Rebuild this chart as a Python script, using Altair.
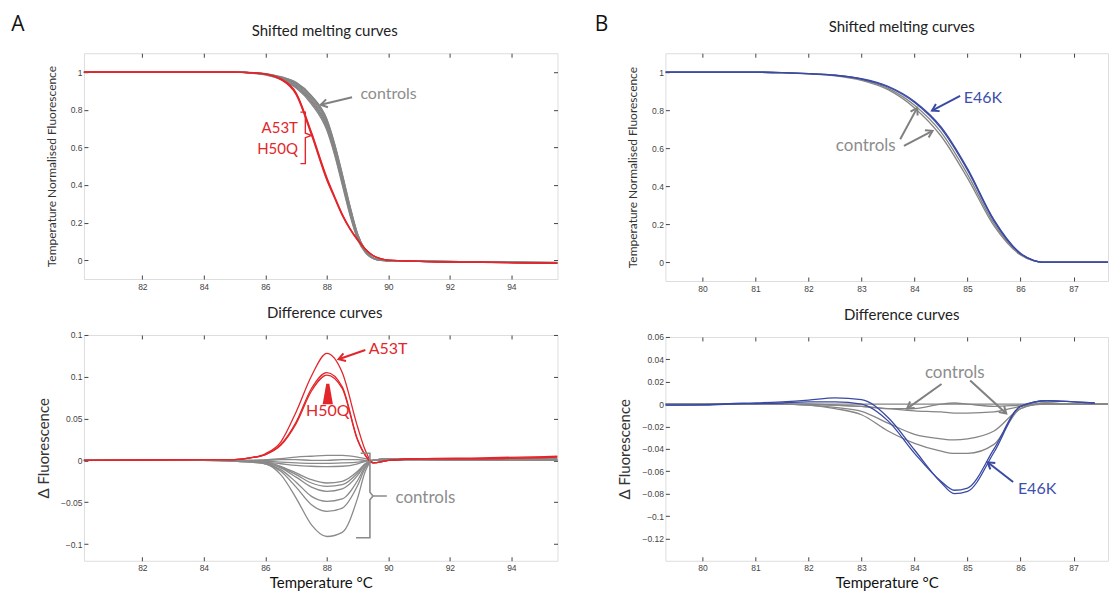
import math
import altair as alt
import pandas as pd

RED = "#e2262b"
GREY = "#858585"
GREY_TXT = "#8d8d8d"
BLUE = "#3a4aa3"
BLUE_TXT = "#3d4fae"
TICK_FONT = "Liberation Sans"
TXT_FONT = "Lato"

# ---------------- Panel A : shifted melting curves ----------------
A_MELT_T = [80, 84, 85, 85.5, 86, 86.5, 87, 87.5, 88, 88.25, 88.5, 88.75, 89, 89.25, 89.5, 89.75, 90, 91, 93, 95.5]
A_MELT_CONTROLS = [
    [1.0, 1.0, 1.002, 0.998, 0.992, 0.975, 0.945, 0.875, 0.750, 0.620, 0.460, 0.290, 0.140, 0.055, 0.013, 0.0, -0.003, -0.005, -0.009, -0.013],
    [1.0, 1.0, 1.002, 0.997, 0.990, 0.972, 0.940, 0.868, 0.740, 0.610, 0.450, 0.280, 0.135, 0.052, 0.012, 0.0, -0.003, -0.005, -0.009, -0.012],
    [1.0, 1.0, 1.002, 0.997, 0.990, 0.970, 0.935, 0.860, 0.730, 0.600, 0.440, 0.270, 0.130, 0.050, 0.012, 0.0, -0.003, -0.005, -0.009, -0.013],
    [1.0, 1.0, 1.001, 0.996, 0.988, 0.967, 0.930, 0.852, 0.720, 0.590, 0.430, 0.262, 0.125, 0.048, 0.011, 0.0, -0.003, -0.005, -0.010, -0.014],
    [1.0, 1.0, 1.001, 0.996, 0.987, 0.964, 0.925, 0.845, 0.710, 0.580, 0.420, 0.255, 0.120, 0.045, 0.010, -0.001, -0.003, -0.006, -0.010, -0.014],
    [1.0, 1.0, 1.001, 0.995, 0.986, 0.962, 0.920, 0.838, 0.700, 0.570, 0.410, 0.248, 0.116, 0.043, 0.010, -0.001, -0.004, -0.006, -0.010, -0.015],
    [1.0, 1.0, 1.002, 0.997, 0.991, 0.973, 0.943, 0.872, 0.745, 0.615, 0.455, 0.285, 0.138, 0.054, 0.013, 0.0, -0.003, -0.005, -0.009, -0.013],
    [1.0, 1.0, 1.001, 0.995, 0.985, 0.960, 0.915, 0.830, 0.690, 0.560, 0.400, 0.240, 0.110, 0.040, 0.009, -0.001, -0.004, -0.006, -0.011, -0.015],
]
A_MELT_MUTANTS = [
    [1.0, 1.0, 1.0, 0.997, 0.990, 0.965, 0.890, 0.680, 0.440, 0.340, 0.245, 0.170, 0.110, 0.060, 0.025, 0.008, 0.0, -0.006, -0.011, -0.016],
    [1.0, 1.0, 1.0, 0.996, 0.988, 0.960, 0.880, 0.665, 0.425, 0.330, 0.238, 0.165, 0.106, 0.058, 0.024, 0.007, 0.0, -0.006, -0.011, -0.017],
    [1.0, 1.0, 1.0, 0.997, 0.989, 0.963, 0.885, 0.672, 0.432, 0.335, 0.242, 0.168, 0.108, 0.059, 0.025, 0.008, 0.0, -0.006, -0.011, -0.016],
]

# ---------------- Panel A : difference curves ----------------
A_DIFF_T = [80, 84, 85, 85.5, 86, 86.5, 87, 87.5, 88, 88.5, 89, 89.25, 89.5, 90, 91, 93, 95.5]
A_DIFF_CONTROLS = [
    [0, 0, -0.001, -0.002, -0.004, -0.017, -0.045, -0.077, -0.091, -0.086, -0.045, -0.013, 0.0, 0.002, 0.002, 0.001, 0.002],
    [0, 0, -0.001, -0.002, -0.004, -0.013, -0.032, -0.053, -0.061, -0.057, -0.030, -0.009, 0.0, 0.002, 0.002, 0.001, 0.002],
    [0, 0, -0.001, -0.002, -0.004, -0.011, -0.026, -0.043, -0.049, -0.046, -0.024, -0.007, 0.0, 0.002, 0.002, 0.001, 0.001],
    [0, 0, 0.0, -0.001, -0.003, -0.009, -0.020, -0.032, -0.037, -0.034, -0.018, -0.005, 0.0, 0.002, 0.001, 0.001, 0.001],
    [0, 0, 0.0, -0.001, -0.003, -0.008, -0.017, -0.027, -0.031, -0.029, -0.015, -0.004, 0.0, 0.001, 0.001, 0.001, 0.001],
    [0, 0, 0.0, -0.001, -0.002, -0.007, -0.015, -0.023, -0.027, -0.025, -0.013, -0.004, 0.0, 0.001, 0.001, 0.001, 0.0],
    [0, 0, 0.0, -0.001, -0.002, -0.004, -0.006, -0.007, -0.0075, -0.007, -0.004, -0.001, 0.0, 0.001, 0.001, 0.0, 0.0],
    [0, 0, 0.0, 0.0, -0.001, -0.002, -0.003, -0.0035, -0.0035, -0.003, -0.002, -0.001, 0.0, 0.001, 0.001, 0.0, 0.0],
    [0, 0, 0.0, 0.0, 0.0, 0.001, 0.001, 0.0, 0.0, 0.001, 0.001, 0.0, 0.0, 0.0, 0.001, 0.0, 0.0],
    [0, 0, 0.0, 0.0, 0.001, 0.002, 0.004, 0.005, 0.006, 0.006, 0.004, 0.002, 0.0, 0.001, 0.001, 0.0, 0.0],
]
A_DIFF_MUTANTS = [
    [0, 0.001, 0.001, 0.003, 0.008, 0.022, 0.058, 0.101, 0.128, 0.105, 0.040, 0.012, -0.003, 0.0, 0.002, 0.002, 0.004],
    [0, 0.001, 0.001, 0.003, 0.007, 0.019, 0.046, 0.086, 0.105, 0.088, 0.025, 0.006, -0.003, 0.0, 0.002, 0.003, 0.005],
    [0, 0.001, 0.001, 0.003, 0.007, 0.018, 0.044, 0.083, 0.102, 0.086, 0.024, 0.006, -0.003, 0.0, 0.002, 0.002, 0.004],
]

# ---------------- Panel B : shifted melting curves ----------------
B_MELT_T = [79.3, 80, 81, 81.5, 82, 82.5, 83, 83.5, 84, 84.5, 85, 85.5, 86, 86.25, 86.4, 87, 87.8]
B_MELT_CONTROLS = [
    [1.0, 1.0, 1.0, 0.998, 0.992, 0.983, 0.961, 0.915, 0.826, 0.684, 0.462, 0.202, 0.040, 0.007, 0.0, -0.001, -0.001],
    [1.0, 1.0, 1.0, 0.997, 0.991, 0.981, 0.957, 0.908, 0.812, 0.664, 0.442, 0.190, 0.037, 0.006, 0.0, -0.001, -0.001],
]
B_MELT_E46K = [
    [1.0, 1.0, 1.0, 0.998, 0.993, 0.985, 0.966, 0.926, 0.846, 0.712, 0.492, 0.222, 0.046, 0.009, 0.0, -0.001, -0.001],
    [1.0, 1.0, 1.0, 0.998, 0.992, 0.984, 0.964, 0.922, 0.840, 0.704, 0.484, 0.216, 0.044, 0.008, 0.0, -0.001, -0.001],
]

# ---------------- Panel B : difference curves ----------------
B_DIFF_T = [79.3, 80, 80.5, 81, 81.5, 82, 82.5, 83, 83.5, 84, 84.5, 84.75, 85, 85.5, 86, 86.5, 87, 87.4, 87.8]
B_DIFF_CONTROLS = [
    [0, 0, 0, 0, 0, 0, 0, 0, 0, 0, 0, 0, 0, 0, 0, 0, 0, 0, 0],
    [0, 0, 0, 0, 0, 0, -0.001, -0.002, -0.004, -0.004, 0.0, 0.001, 0.0, -0.002, -0.001, 0.0, 0.0, 0.0, 0.0],
    [0, 0, 0, 0, 0, 0, -0.001, -0.002, -0.004, -0.006, -0.007, -0.008, -0.008, -0.007, -0.002, 0.0, 0.0, 0.0, 0.0],
    [0, 0, 0, 0, 0, -0.001, -0.003, -0.0065, -0.017, -0.027, -0.031, -0.032, -0.031, -0.024, -0.004, 0.001, 0.0, 0.0, 0.0],
    [0, 0, 0, 0, 0, -0.001, -0.004, -0.0095, -0.024, -0.035, -0.042, -0.044, -0.044, -0.036, -0.004, 0.001, 0.0, 0.0, 0.0],
]
B_DIFF_E46K = [
    [-0.001, -0.0005, 0.0005, 0.001, 0.002, 0.0035, 0.0055, 0.004, -0.012, -0.041, -0.070, -0.080, -0.078, -0.043, -0.002, 0.003, 0.002, 0.001, None],
    [-0.001, -0.001, 0.0, 0.0005, 0.001, 0.002, 0.002, 0.0, -0.015, -0.044, -0.069, -0.077, -0.075, -0.040, -0.002, 0.003, 0.002, 0.001, None],
]

# ---------------- axes ----------------
A_XTICKS = [82, 84, 86, 88, 90, 92, 94]
B_XTICKS = [80, 81, 82, 83, 84, 85, 86, 87]
MELT_YTICKS = [0, 0.2, 0.4, 0.6, 0.8, 1]
A_DIFF_YTICKS = [-0.1, -0.05, 0, 0.05, 0.1, 0.15]
B_DIFF_YTICKS = [-0.12, -0.1, -0.08, -0.06, -0.04, -0.02, 0, 0.02, 0.04, 0.06]

A_XDOM = [80.1, 95.5]
B_XDOM = [79.3, 87.65]
MELT_YDOM = [-0.1, 1.1]
A_DIFF_YDOM = [-0.12, 0.15]
B_DIFF_YDOM = [-0.14, 0.06]

AW, BW = 474, 443
H_AT, H_AB, H_BT, H_BB = 226, 226, 228, 224


def curves(grid, groups):
    rows = []
    for name, color, series_list in groups:
        for i, s in enumerate(series_list):
            for t, v in zip(grid, s):
                if v is None:
                    continue
                rows.append({"id": f"{name}{i}", "T": t, "v": v, "col": color})
    return pd.DataFrame(rows)


def arrows_layers(arrows, xs, ys, kx, ky):
    """arrows: list of (x0, y0, x1, y1, color); head at (x1, y1)."""
    shafts, heads = [], []
    for k, (x0, y0, x1, y1, c) in enumerate(arrows):
        shafts.append({"id": k, "o": 0, "T": x0, "v": y0, "col": c})
        shafts.append({"id": k, "o": 1, "T": x1, "v": y1, "col": c})
        dx = (x1 - x0) * kx
        dy = (y1 - y0) * ky
        ang = math.degrees(math.atan2(dx, dy)) % 360
        heads.append({"T": x1, "v": y1, "col": c, "ang": ang})
    s = alt.Chart(pd.DataFrame(shafts)).mark_line(strokeWidth=2).encode(
        x=alt.X("T:Q", scale=xs, axis=None), y=alt.Y("v:Q", scale=ys, axis=None),
        color=alt.Color("col:N", scale=None), detail="id:N", order="o:Q")
    h = alt.Chart(pd.DataFrame(heads)).mark_point(
        shape="M-0.62,1 L0,0 L0.62,1", filled=False, strokeWidth=2, size=170, opacity=1).encode(
        x=alt.X("T:Q", scale=xs, axis=None), y=alt.Y("v:Q", scale=ys, axis=None),
        stroke=alt.Stroke("col:N", scale=None), angle=alt.Angle("ang:Q", scale=None))
    return [s, h]


def texts_layer(items, xs, ys):
    """items: (x, y, text, color, align, size)"""
    df = pd.DataFrame([{"T": a, "v": b, "t": c, "col": d, "al": e, "sz": f} for a, b, c, d, e, f in items])
    layers = []
    for al in df["al"].unique():
        sub = df[df["al"] == al]
        layers.append(alt.Chart(sub).mark_text(align=al, baseline="middle", font=TXT_FONT).encode(
            x=alt.X("T:Q", scale=xs, axis=None), y=alt.Y("v:Q", scale=ys, axis=None),
            text="t:N", color=alt.Color("col:N", scale=None), size=alt.Size("sz:Q", scale=None)))
    return layers


def polyline_layer(points, color, xs, ys, sw=1.6):
    df = pd.DataFrame([{"o": i, "T": p[0], "v": p[1], "id": p[2]} for i, p in enumerate(points)])
    return alt.Chart(df).mark_line(color=color, strokeWidth=sw).encode(
        x=alt.X("T:Q", scale=xs, axis=None), y=alt.Y("v:Q", scale=ys, axis=None),
        detail="id:N", order="o:Q")


def label_layer(text, x, y, size, color="#222", font=TXT_FONT):
    return alt.Chart(pd.DataFrame({"t": [text]})).mark_text(
        fontSize=size, font=font, color=color, align="center", baseline="middle").encode(
        x=alt.value(x), y=alt.value(y), text="t:N")


def panel(df, xdom, ydom, xticks, yticks, W, Hh, title, title_dx, title_y, ytitle, ytitle_size, ytitle_pad,
          xtitle, right_ticks, extra, letter, letter_xy):
    xs = alt.Scale(domain=xdom, nice=False, zero=False)
    ys = alt.Scale(domain=ydom, nice=False, zero=False)
    xaxis = alt.Axis(orient="bottom", values=xticks, format="d", domain=False, grid=False,
                     tickSize=4, offset=-4, labelPadding=3, labelFont=TICK_FONT, labelFontSize=8.5,
                     labelColor="#444", tickColor="#444",
                     title=xtitle if xtitle else None, titleFont=TXT_FONT, titleFontSize=15,
                     titleFontWeight="normal", titleColor="#111", titlePadding=3)
    yaxis = alt.Axis(orient="left", values=yticks, format="~g", domain=False, grid=False,
                     tickSize=4, offset=-4, labelPadding=2, labelFont=TICK_FONT, labelFontSize=8.5,
                     labelColor="#444", tickColor="#444",
                     title=ytitle, titleFont=TXT_FONT, titleFontSize=ytitle_size,
                     titleFontWeight="normal", titleColor="#333", titlePadding=ytitle_pad)
    lines = alt.Chart(df).mark_line(interpolate="monotone", strokeWidth=1.3, clip=True).encode(
        x=alt.X("T:Q", scale=xs, axis=xaxis), y=alt.Y("v:Q", scale=ys, axis=yaxis),
        color=alt.Color("col:N", scale=None), detail="id:N")
    top_axis = alt.Axis(orient="top", values=xticks, labels=False, domain=False, grid=False,
                        tickSize=4, offset=-4, tickColor="#444", title=None)
    right_axis = (alt.Axis(orient="right", values=yticks, labels=False, domain=False, grid=False,
                           tickSize=4, offset=-4, tickColor="#444", title=None)
                  if right_ticks else None)
    frame = alt.Chart(df).mark_point(opacity=0, clip=True).encode(
        x=alt.X("T:Q", scale=xs, axis=top_axis), y=alt.Y("v:Q", scale=ys, axis=right_axis))
    layers = [lines, frame] + [f(xs, ys) for f in extra]
    flat = []
    for l in layers:
        if isinstance(l, list):
            flat.extend(l)
        else:
            flat.append(l)
    flat.append(label_layer(title, W / 2 + title_dx, title_y, 15))
    if letter:
        flat.append(label_layer(letter, letter_xy[0], letter_xy[1], 21, "#111", "Open Sans"))
    return alt.layer(*flat).resolve_axis(x="independent", y="independent").properties(width=W, height=Hh)


# ---------- data frames ----------
df_a_melt = curves(A_MELT_T, [("c", GREY, A_MELT_CONTROLS), ("m", RED, A_MELT_MUTANTS)])
df_a_diff = curves(A_DIFF_T, [("c", "#8a8a8a", A_DIFF_CONTROLS), ("m", RED, A_DIFF_MUTANTS)])
df_b_melt = curves(B_MELT_T, [("c", GREY, B_MELT_CONTROLS), ("m", BLUE, B_MELT_E46K)])
df_b_diff = curves(B_DIFF_T, [("c", GREY, B_DIFF_CONTROLS), ("m", BLUE, B_DIFF_E46K)])

akx = AW / (A_XDOM[1] - A_XDOM[0])
bkx = BW / (B_XDOM[1] - B_XDOM[0])
k_amelt = H_AT / (MELT_YDOM[1] - MELT_YDOM[0])
k_bmelt = H_BT / (MELT_YDOM[1] - MELT_YDOM[0])
k_adiff = H_AB / (A_DIFF_YDOM[1] - A_DIFF_YDOM[0])
k_bdiff = H_BB / (B_DIFF_YDOM[1] - B_DIFF_YDOM[0])

# ---------- annotations ----------
a_top_extra = [
    lambda xs, ys: texts_layer([
        (89.09, 0.884, "controls", GREY_TXT, "left", 16),
        (87.06, 0.70, "A53T", RED, "right", 15),
        (87.06, 0.59, "H50Q", RED, "right", 15)], xs, ys),
    lambda xs, ys: arrows_layers([(88.82, 0.866, 87.80, 0.826, "#808080")], xs, ys, akx, k_amelt),
    lambda xs, ys: polyline_layer([
        (87.14, 0.787, 0), (87.30, 0.787, 0), (87.30, 0.675, 0), (87.50, 0.663, 0),
        (87.30, 0.651, 0), (87.30, 0.513, 0), (87.14, 0.513, 0)], RED, xs, ys, 1.4),
]
a_bot_extra = [
    lambda xs, ys: texts_layer([
        (89.36, 0.133, "A53T", RED, "left", 16),
        (88.03, 0.059, "H50Q", RED, "center", 16),
        (90.23, -0.0445, "controls", GREY_TXT, "left", 17)], xs, ys),
    lambda xs, ys: arrows_layers([(89.25, 0.132, 88.38, 0.121, RED)], xs, ys, akx, k_adiff),
    lambda xs, ys: alt.Chart(pd.DataFrame({"T": [88.03], "v": [0.0794]})).mark_point(
        shape="M-0.15,-1 L0.15,-1 L0.5,1 L-0.5,1 Z", filled=True, color=RED, size=420, opacity=1).encode(
        x=alt.X("T:Q", scale=xs, axis=None), y=alt.Y("v:Q", scale=ys, axis=None)),
    lambda xs, ys: polyline_layer([
        (89.1, 0.0085, 0), (89.4, 0.0085, 0), (89.4, -0.038, 0), (89.5, -0.0425, 0), (89.95, -0.0425, 0),
        (89.5, -0.0425, 1), (89.4, -0.047, 1), (89.4, -0.0925, 1), (88.95, -0.0925, 1)], "#8a8a8a", xs, ys),
]
b_top_extra = [
    lambda xs, ys: texts_layer([
        (84.93, 0.866, "E46K", BLUE_TXT, "left", 16),
        (83.08, 0.609, "controls", GREY_TXT, "center", 17)], xs, ys),
    lambda xs, ys: arrows_layers([
        (84.86, 0.875, 84.33, 0.798, BLUE),
        (83.73, 0.647, 84.05, 0.812, "#808080"),
        (83.80, 0.612, 84.34, 0.691, "#808080")], xs, ys, bkx, k_bmelt),
]
b_bot_extra = [
    lambda xs, ys: texts_layer([
        (84.76, 0.0277, "controls", GREY_TXT, "center", 17),
        (85.95, -0.0755, "E46K", BLUE_TXT, "left", 16)], xs, ys),
    lambda xs, ys: arrows_layers([
        (84.51, 0.018, 83.86, -0.004, "#808080"),
        (85.05, 0.021, 85.73, -0.0083, "#808080"),
        (85.86, -0.0696, 85.38, -0.052, BLUE)], xs, ys, bkx, k_bdiff),
]

A_top = panel(df_a_melt, A_XDOM, MELT_YDOM, A_XTICKS, MELT_YTICKS, AW, H_AT, "Shifted melting curves", 4, -22,
              "Temperature Normalised Fluorescence", 12, 12, None, True, a_top_extra, "A", (-66, -28))
A_bot = panel(df_a_diff, A_XDOM, A_DIFF_YDOM, A_XTICKS, A_DIFF_YTICKS, AW, H_AB, "Difference curves", 4, -22,
              "Δ Fluorescence", 15, 9, "Temperature °C", True, a_bot_extra, None, None)
B_top = panel(df_b_melt, B_XDOM, MELT_YDOM, B_XTICKS, MELT_YTICKS, BW, H_BT, "Shifted melting curves", 15, -26,
              "Temperature Normalised Fluorescence", 12, 12, None, False, b_top_extra, "B", (-64, -28))
B_bot = panel(df_b_diff, B_XDOM, B_DIFF_YDOM, B_XTICKS, B_DIFF_YTICKS, BW, H_BB, "Difference curves", 15, -22,
              "Δ Fluorescence", 15, 9, "Temperature °C", False, b_bot_extra, None, None)

chart = alt.hconcat(
    alt.vconcat(A_top, A_bot, spacing=14),
    alt.vconcat(B_top, B_bot, spacing=14),
    spacing=35,
).properties(padding={"left": 2, "top": 5, "right": 0, "bottom": 0}).configure_view(
    stroke="#3a3a3a", strokeWidth=1).configure(background="white")

chart.save("out.html", embed_options={"renderer": "svg", "actions": False})
